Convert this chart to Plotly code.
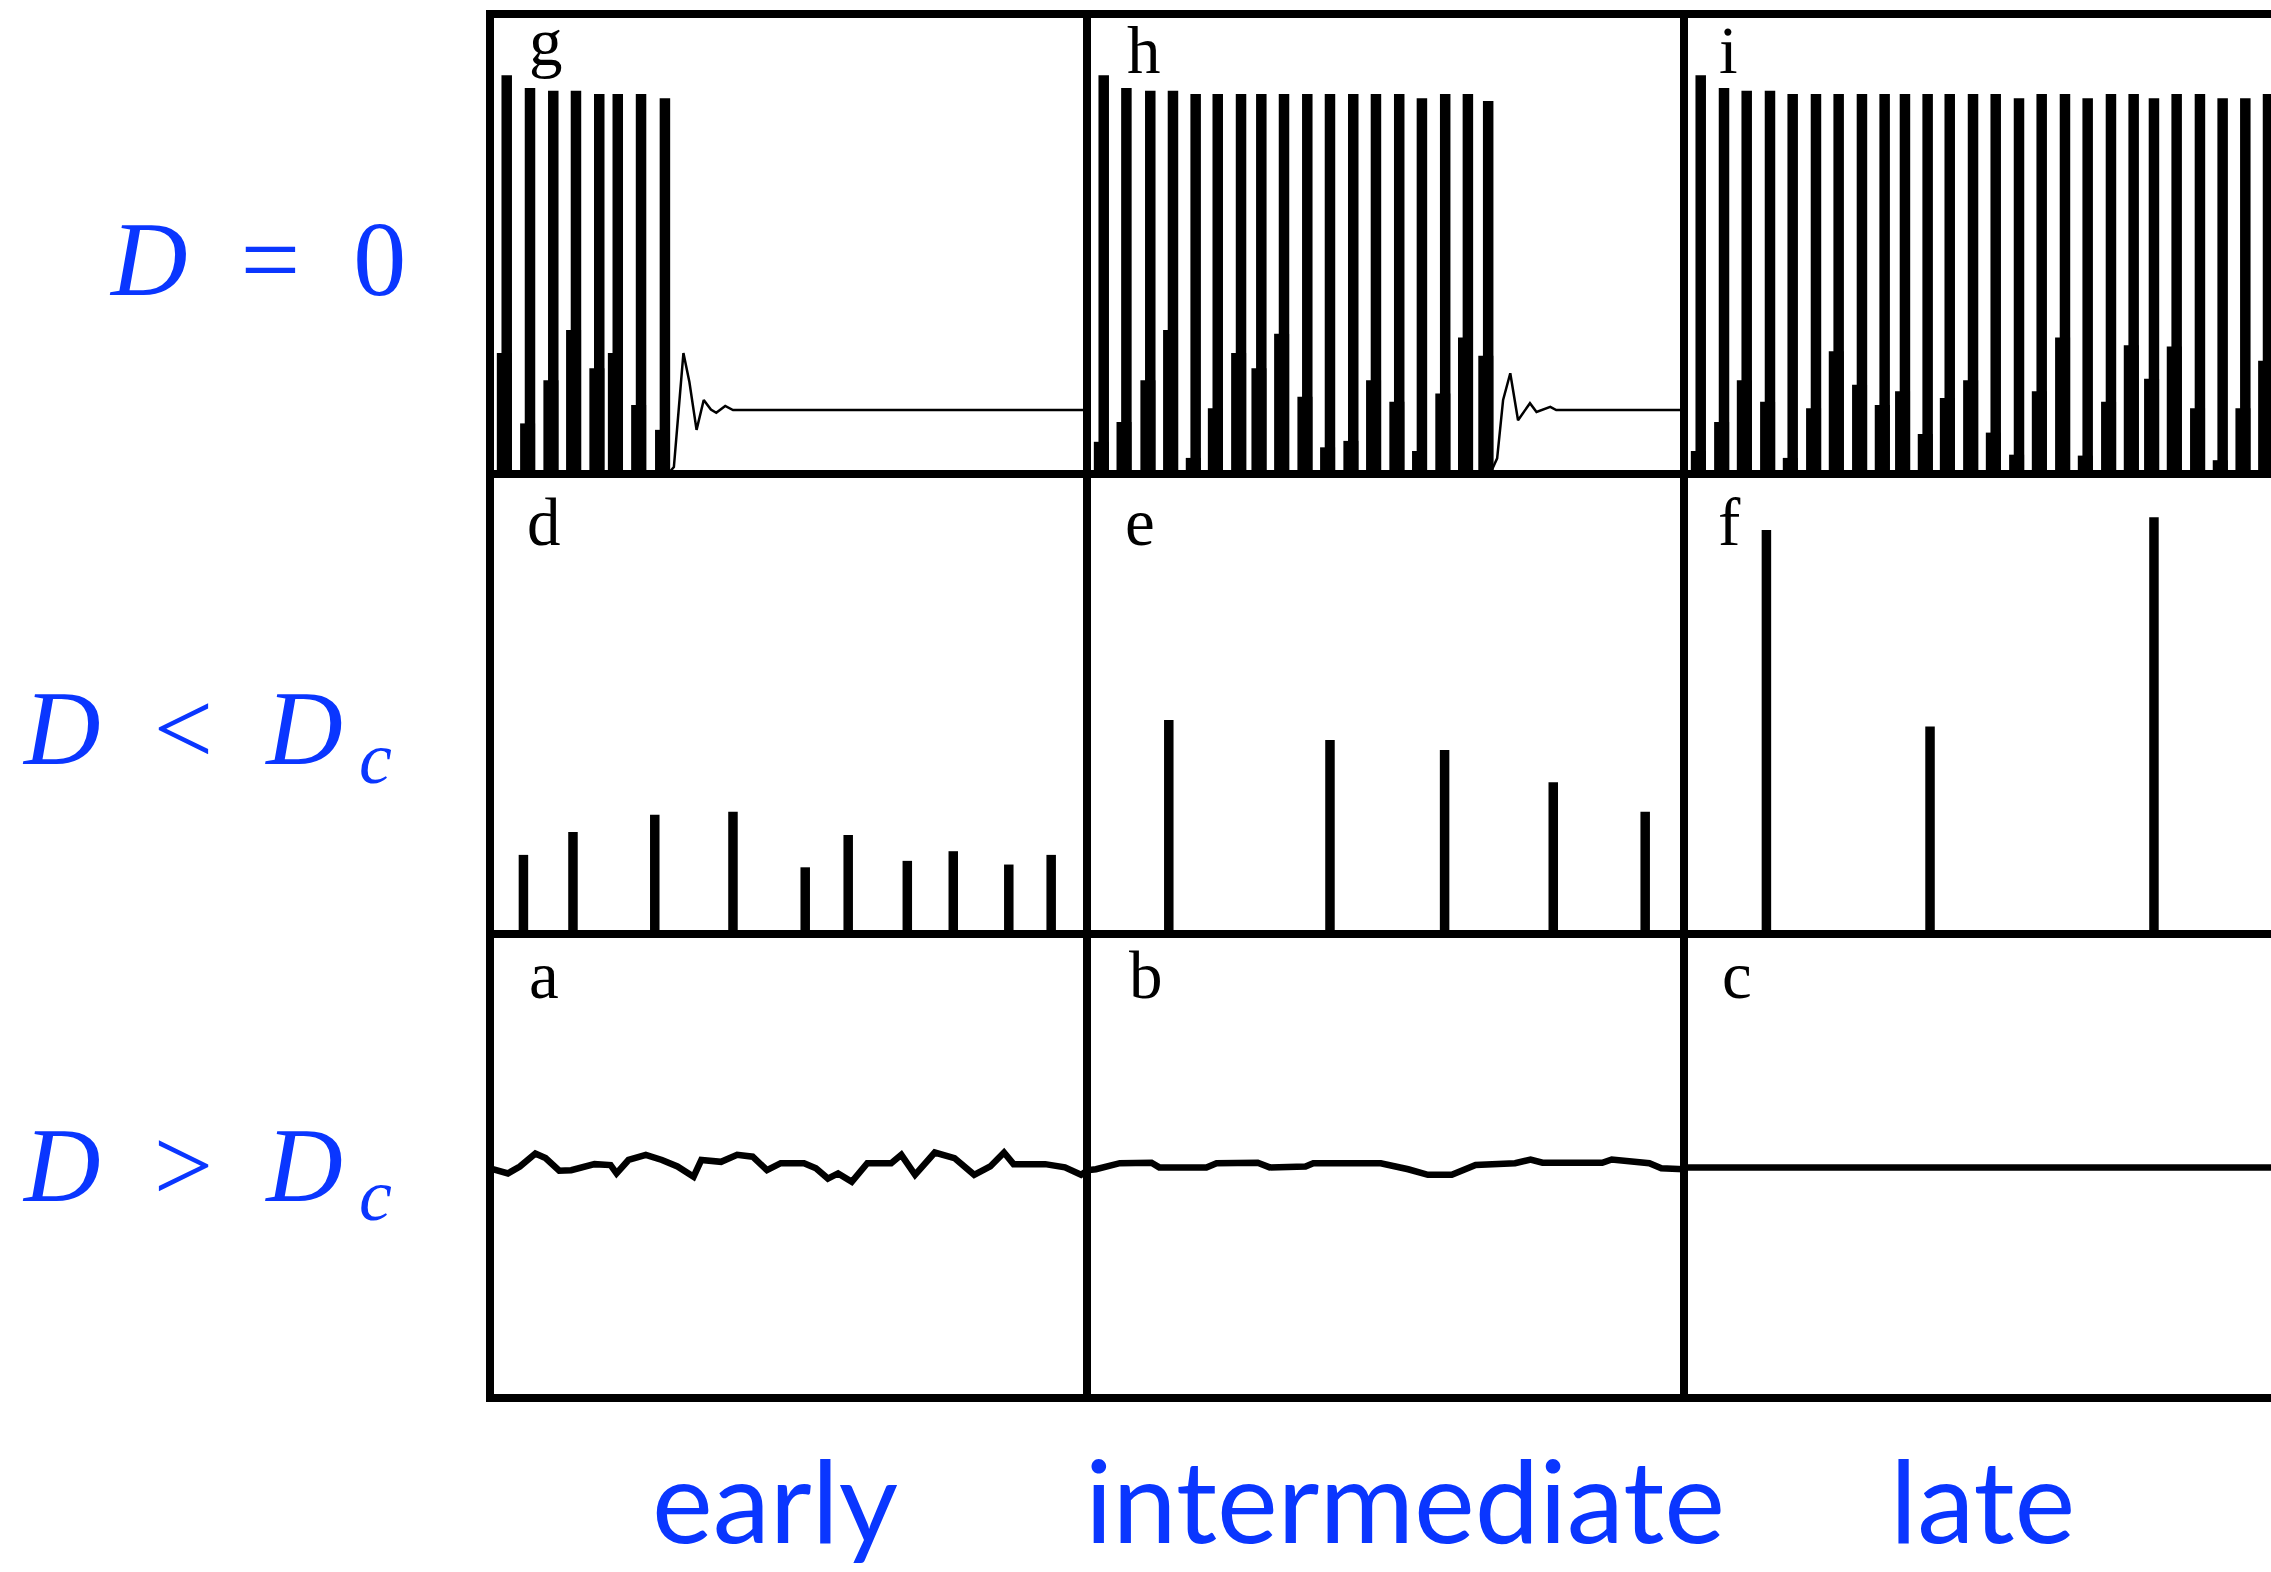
import plotly.graph_objects as go

FIG_W, FIG_H = 2271, 1572
BLUE = "#0a36ff"

# ---------------------------------------------------------------------------
# D = 0 (top row): spike times (time units inside each window), spike peaks and
# the height of the depolarising hump at the foot of every spike (normalised V)
g_spike_t = [2.8, 6.7, 10.6, 14.4, 18.3, 21.4, 25.3, 29.3]
g_spike_peak = [0.867, 0.839, 0.833, 0.833, 0.826, 0.826, 0.826, 0.817]
g_hump = [0.263, 0.110, 0.204, 0.313, 0.230, 0.263, 0.150, 0.096]
g_tail_t = [29.8, 30.8, 31.8, 32.4, 33.4, 34.6, 35.8, 37.0, 37.9, 39.4, 40.7, 100.0]
g_tail_v = [0.0, 0.015, 0.17, 0.263, 0.20, 0.096, 0.161, 0.14, 0.133, 0.148, 0.139, 0.139]

h_spike_t = [2.8, 6.6, 10.6, 14.4, 18.2, 21.9, 25.8, 29.2, 33.0, 36.9, 40.7, 44.6,
             48.4, 52.3, 56.1, 60.0, 63.8, 67.2]
h_spike_peak = [0.867, 0.839, 0.833, 0.833, 0.826, 0.826, 0.826, 0.826, 0.826, 0.826,
                0.826, 0.826, 0.826, 0.826, 0.817, 0.826, 0.826, 0.811]
h_hump = [0.070, 0.113, 0.204, 0.313, 0.035, 0.143, 0.263, 0.230, 0.305, 0.168,
          0.058, 0.072, 0.204, 0.157, 0.050, 0.175, 0.297, 0.257]
h_tail_t = [67.5, 68.7, 69.7, 70.9, 72.2, 74.2, 75.3, 77.6, 78.6, 100.0]
h_tail_v = [0.0, 0.034, 0.161, 0.219, 0.117, 0.154, 0.135, 0.146, 0.139, 0.139]

i_spike_t = [2.8, 6.7, 10.5, 14.4, 18.2, 22.1, 25.9, 29.8, 33.6, 37.0, 40.8, 44.5,
             48.4, 52.2, 56.1, 59.9, 63.8, 67.6, 71.5, 75.3, 78.7, 82.5, 86.4, 90.2,
             94.0, 97.8]
i_spike_peak = [0.867, 0.839, 0.833, 0.833, 0.826, 0.826, 0.826, 0.826, 0.826, 0.826,
                0.826, 0.826, 0.826, 0.826, 0.817, 0.826, 0.826, 0.817, 0.826, 0.826,
                0.817, 0.826, 0.826, 0.817, 0.817, 0.826]
i_hump = [0.050, 0.113, 0.204, 0.157, 0.035, 0.143, 0.267, 0.194, 0.150, 0.180,
          0.087, 0.165, 0.204, 0.090, 0.042, 0.180, 0.297, 0.040, 0.157, 0.280,
          0.207, 0.277, 0.143, 0.030, 0.143, 0.246]

# D < Dc (middle row): sparse isolated spikes
d_spike_t = [5.6, 13.9, 27.6, 40.7, 52.8, 60.0, 69.9, 77.6, 86.9, 94.0]
d_spike_v = [0.172, 0.222, 0.259, 0.266, 0.145, 0.215, 0.159, 0.180, 0.151, 0.172]
e_spike_t = [13.7, 40.7, 59.9, 78.1, 93.5]
e_spike_v = [0.465, 0.422, 0.400, 0.330, 0.266]
f_spike_t = [13.8, 41.2, 78.7]
f_spike_v = [0.878, 0.451, 0.906]

# D > Dc (bottom row): small subthreshold fluctuations around rest
a_t = [0.0, 1.0, 3.0, 5.0, 7.6, 9.3, 11.6, 13.6, 17.5, 20.2, 21.2, 23.2, 26.1, 28.8,
       31.4, 34.1, 35.4, 38.7, 41.4, 44.0, 46.4, 48.7, 52.6, 54.6, 56.6, 58.3, 60.6,
       63.2, 67.2, 68.9, 71.2, 74.5, 77.8, 81.1, 83.8, 86.1, 87.7, 93.0, 96.3, 99.0,
       100.0]
a_v = [0.495, 0.491, 0.484, 0.499, 0.527, 0.517, 0.490, 0.491, 0.504, 0.502, 0.484,
       0.513, 0.524, 0.513, 0.499, 0.477, 0.513, 0.509, 0.524, 0.520, 0.491, 0.506,
       0.506, 0.495, 0.473, 0.484, 0.466, 0.506, 0.506, 0.524, 0.481, 0.529, 0.517,
       0.481, 0.499, 0.529, 0.504, 0.504, 0.497, 0.481, 0.490]
b_t = [0.0, 1.5, 5.5, 10.8, 12.1, 20.0, 21.7, 28.6, 30.6, 36.6, 37.9, 49.2, 53.8,
       57.1, 61.1, 65.1, 71.7, 74.3, 76.3, 86.3, 87.9, 94.2, 96.2, 100.0]
b_v = [0.491, 0.493, 0.506, 0.507, 0.497, 0.497, 0.506, 0.507, 0.497, 0.499, 0.506,
       0.506, 0.493, 0.481, 0.481, 0.502, 0.506, 0.514, 0.507, 0.507, 0.514, 0.506,
       0.495, 0.493]
c_t = [0.0, 100.0]
c_v = [0.497, 0.497]

# labels
panel_letters = [["g", "h", "i"], ["d", "e", "f"], ["a", "b", "c"]]
row_labels = ["<i>D</i>\u2002=\u20020",
              "<i>D</i>\u2002&lt;\u2002<i>D</i>",
              "<i>D</i>\u2002&gt;\u2002<i>D</i>"]
row_subscripts = ["", "<i>c</i>", "<i>c</i>"]
col_labels = ["early", "intermediate", "late"]

# ---------------------------------------------------------------------------
# grid geometry (pixels of the page)
COL_EDGES = [490, 1087, 1684, 2271]
ROW_EDGES = [14, 474, 934, 1398]
X_MAX = [100.0, 100.0, 98.3]   # last window runs past the page edge
FRAME_W = 8


def px_x(p):
    return p / FIG_W


def px_y(p):
    return 1 - p / FIG_H


def stems(ts, vs, shift=0.0):
    xs, ys = [], []
    for t, v in zip(ts, vs):
        xs += [t + shift, t + shift, None]
        ys += [0.0, v, None]
    return xs, ys


def axis_names(r, c):
    k = r * 3 + c + 1
    s = "" if k == 1 else str(k)
    return "x" + s, "y" + s


fig = go.Figure()


def add_line(r, c, x, y, width):
    xa, ya = axis_names(r, c)
    fig.add_trace(go.Scatter(x=x, y=y, mode="lines", xaxis=xa, yaxis=ya,
                             line=dict(color="black", width=width),
                             hoverinfo="skip", showlegend=False))


# top row: bursts of spikes
for c, (st, sp, hu) in enumerate([(g_spike_t, g_spike_peak, g_hump),
                                  (h_spike_t, h_spike_peak, h_hump),
                                  (i_spike_t, i_spike_peak, i_hump)]):
    hx, hy = stems(st, hu, shift=-0.4)
    add_line(0, c, hx, hy, 15)
    sx, sy = stems(st, sp)
    add_line(0, c, sx, sy, 10.5)
add_line(0, 0, g_tail_t, g_tail_v, 2.5)
add_line(0, 1, h_tail_t, h_tail_v, 2.5)

# middle row: isolated spikes
for c, (st, sv) in enumerate([(d_spike_t, d_spike_v),
                              (e_spike_t, e_spike_v),
                              (f_spike_t, f_spike_v)]):
    sx, sy = stems(st, sv)
    add_line(1, c, sx, sy, 9.5)

# bottom row: noisy resting potential
for c, (tt, vv) in enumerate([(a_t, a_v), (b_t, b_v), (c_t, c_v)]):
    add_line(2, c, tt, vv, 6.5)

layout = dict(width=FIG_W, height=FIG_H, margin=dict(l=0, r=0, t=0, b=0),
              paper_bgcolor="white", plot_bgcolor="white", showlegend=False)
for r in range(3):
    for c in range(3):
        xa, ya = axis_names(r, c)
        xkey = "xaxis" + xa[1:]
        ykey = "yaxis" + ya[1:]
        layout[xkey] = dict(domain=[px_x(COL_EDGES[c]), px_x(COL_EDGES[c + 1])],
                            range=[0, X_MAX[c]], anchor=ya, visible=False,
                            fixedrange=True)
        layout[ykey] = dict(domain=[px_y(ROW_EDGES[r + 1]), px_y(ROW_EDGES[r])],
                            range=[0, 1], anchor=xa, visible=False, fixedrange=True)
fig.update_layout(**layout)

# frame
shapes = []
half = FRAME_W / 2
for yp in ROW_EDGES:
    shapes.append(dict(type="line", xref="paper", yref="paper",
                       x0=px_x(COL_EDGES[0] - half), x1=1.0,
                       y0=px_y(yp), y1=px_y(yp),
                       line=dict(color="black", width=FRAME_W)))
for xp in COL_EDGES[:3]:
    shapes.append(dict(type="line", xref="paper", yref="paper",
                       x0=px_x(xp), x1=px_x(xp),
                       y0=px_y(ROW_EDGES[0] - half), y1=px_y(ROW_EDGES[3] + half),
                       line=dict(color="black", width=FRAME_W)))
fig.update_layout(shapes=shapes)

# annotations
ann = []
LETTER_SIZE = 67
letter_left = [[527, 1125, 1717], [525, 1123, 1716], [527, 1127, 1720]]
letter_base = [[65, 73, 73], [545, 545, 545], [998, 998, 998]]
for r in range(3):
    for c in range(3):
        top = letter_base[r][c] - 0.891 * LETTER_SIZE - 2
        ann.append(dict(text=panel_letters[r][c], xref="paper", yref="paper",
                        x=px_x(letter_left[r][c]), y=px_y(top),
                        xanchor="left", yanchor="top", showarrow=False,
                        font=dict(family="Liberation Serif", size=LETTER_SIZE,
                                  color="black")))

ROW_SIZE = 106
SUB_SIZE = 74
row_left_x = [107, 20, 20]
row_base = [295, 764, 1201]
sub_left_x = [0, 357, 357]
sub_base = [0, 783, 1220]
for r in range(3):
    top = row_base[r] - 0.891 * ROW_SIZE - 2
    ann.append(dict(text=row_labels[r], xref="paper", yref="paper",
                    x=px_x(row_left_x[r]), y=px_y(top),
                    xanchor="left", yanchor="top", showarrow=False,
                    font=dict(family="Liberation Serif", size=ROW_SIZE, color=BLUE)))
    if row_subscripts[r]:
        stop = sub_base[r] - 0.891 * SUB_SIZE - 2
        ann.append(dict(text=row_subscripts[r], xref="paper", yref="paper",
                        x=px_x(sub_left_x[r]), y=px_y(stop),
                        xanchor="left", yanchor="top", showarrow=False,
                        font=dict(family="Liberation Serif", size=SUB_SIZE,
                                  color=BLUE)))

COL_SIZE = 115
col_center_x = [775, 1405, 1982]
col_middle_y = 1498
for c in range(3):
    ann.append(dict(text=col_labels[c], xref="paper", yref="paper",
                    x=px_x(col_center_x[c]), y=px_y(col_middle_y),
                    xanchor="center", yanchor="middle", showarrow=False,
                    font=dict(family="Lato", size=COL_SIZE, color=BLUE)))
fig.update_layout(annotations=ann)

fig.write_html("out.html")
